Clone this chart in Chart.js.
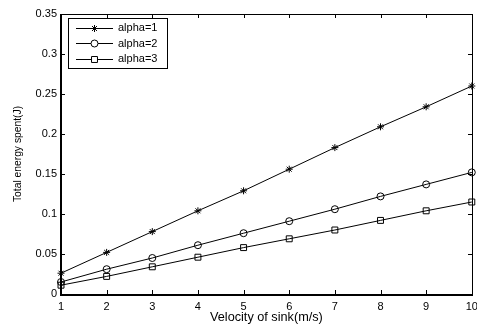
<!DOCTYPE html>
<html>
<head>
<meta charset="utf-8">
<script src="https://cdn.jsdelivr.net/npm/chart.js@4/dist/chart.umd.min.js"></script>
<style>
  html, body { margin: 0; padding: 0; background: #fff; }
  #wrap { width: 477px; height: 328px; }
</style>
</head>
<body>
<div id="wrap"><canvas id="energyChart" width="477" height="328"></canvas></div>
<script>
// velocity of sink (m/s)
const velocity = [1, 2, 3, 4, 5, 6, 7, 8, 9, 10];
// total energy spent (J) for each alpha
const alpha1 = [0.026, 0.052, 0.078, 0.104, 0.129, 0.156, 0.183, 0.209, 0.234, 0.260];
const alpha2 = [0.015, 0.031, 0.045, 0.061, 0.076, 0.091, 0.106, 0.122, 0.137, 0.152];
const alpha3 = [0.011, 0.022, 0.034, 0.046, 0.058, 0.069, 0.080, 0.092, 0.104, 0.115];
const seriesNames = ['alpha=1', 'alpha=2', 'alpha=3'];
const yTicks = [0, 0.05, 0.1, 0.15, 0.2, 0.25, 0.3, 0.35];

const FONT = '"Liberation Sans", Arial, sans-serif';

const styles = [
  { pointStyle: 'star', radius: 3.5 },
  { pointStyle: 'circle', radius: 3.5 },
  { pointStyle: 'rect', radius: 4.2 }
];

function makeSet(name, values, i) {
  return {
    label: name,
    data: values.map((v, k) => ({ x: velocity[k], y: v })),
    borderColor: '#000',
    borderWidth: 1,
    backgroundColor: 'rgba(0,0,0,0)',
    pointBorderColor: '#000',
    pointBorderWidth: 1,
    pointStyle: styles[i].pointStyle,
    pointRadius: styles[i].radius,
    tension: 0,
    clip: false
  };
}

// matlab-like box with inward ticks on all four sides
const boxPlugin = {
  id: 'box',
  afterDatasetsDraw(chart) {
    const { ctx, chartArea: a, scales } = chart;
    const len = 4;
    const L = Math.round(a.left), R = Math.round(a.right);
    const T = Math.round(a.top), B = Math.round(a.bottom);
    ctx.save();
    ctx.strokeStyle = '#000';
    ctx.lineWidth = 1;
    ctx.beginPath();
    velocity.forEach(v => {
      const px = Math.round(scales.x.getPixelForValue(v)) + 0.5;
      ctx.moveTo(px, B); ctx.lineTo(px, B - len);
      ctx.moveTo(px, T); ctx.lineTo(px, T + len);
    });
    yTicks.forEach(v => {
      const py = Math.round(scales.y.getPixelForValue(v)) + 0.5;
      ctx.moveTo(L, py); ctx.lineTo(L + len, py);
      ctx.moveTo(R, py); ctx.lineTo(R - len, py);
    });
    ctx.stroke();
    ctx.strokeRect(L + 0.5, T + 0.5, R - L, B - T);
    // bottom and left axis lines a bit heavier
    ctx.fillStyle = '#000';
    ctx.fillRect(L - 1, T, 2, B - T + 2);
    ctx.fillRect(L - 1, B, R - L + 2, 2);
    ctx.restore();
  },
  afterDraw(chart) {
    // legend box, top-left inside the axes
    const { ctx, chartArea: a } = chart;
    const bx = a.left + 7, by = a.top + 4, bw = 99, bh = 50;
    ctx.save();
    ctx.fillStyle = '#fff';
    ctx.fillRect(bx, by, bw, bh);
    ctx.strokeStyle = '#000';
    ctx.lineWidth = 1;
    ctx.strokeRect(bx + 0.5, by + 0.5, bw, bh);
    ctx.font = '11px ' + FONT;
    ctx.textBaseline = 'middle';
    chart.data.datasets.forEach((ds, i) => {
      const ry = by + 9.5 + i * 15.5;
      ctx.beginPath();
      ctx.moveTo(bx + 8, Math.round(ry) + 0.5);
      ctx.lineTo(bx + 45, Math.round(ry) + 0.5);
      ctx.stroke();
      ctx.fillStyle = '#fff';
      Chart.helpers.drawPoint(ctx, {
        pointStyle: ds.pointStyle, radius: ds.pointRadius, rotation: 0, borderWidth: 1
      }, bx + 26.5, Math.round(ry) + 0.5);
      ctx.fillStyle = '#000';
      ctx.fillText(ds.label, bx + 50, ry + 0.5);
    });
    ctx.restore();
  }
};

new Chart(document.getElementById('energyChart'), {
  type: 'line',
  data: {
    datasets: [
      makeSet(seriesNames[0], alpha1, 0),
      makeSet(seriesNames[1], alpha2, 1),
      makeSet(seriesNames[2], alpha3, 2)
    ]
  },
  options: {
    responsive: false,
    animation: false,
    layout: { padding: { top: 14, right: 5, left: 0, bottom: 0 } },
    plugins: { legend: { display: false }, tooltip: { enabled: false } },
    scales: {
      x: {
        type: 'linear',
        min: 1, max: 10,
        afterFit(s) { s.height = 34; s.paddingLeft = 0; s.paddingRight = 0; },
        afterBuildTicks(s) { s.ticks = velocity.map(v => ({ value: v })); },
        grid: { display: false, drawTicks: false },
        border: { display: false },
        ticks: { color: '#000', padding: 6, font: { family: FONT, size: 11 } },
        title: {
          display: true, text: 'Velocity of sink(m/s)', color: '#000',
          font: { family: FONT, size: 12.7 }, padding: { top: 0, bottom: 3 }
        }
      },
      y: {
        min: 0, max: 0.35,
        afterFit(s) { s.width = 61; s.paddingTop = 0; s.paddingBottom = 0; },
        afterBuildTicks(s) { s.ticks = yTicks.map(v => ({ value: v })); },
        grid: { display: false, drawTicks: false },
        border: { display: false },
        ticks: {
          color: '#000', padding: 4, font: { family: FONT, size: 11 },
          callback: v => String(+v.toFixed(2))
        },
        title: {
          display: true, text: 'Total energy spent(J)', color: '#000',
          font: { family: FONT, size: 10.3 }, padding: { top: 12, bottom: 0 }
        }
      }
    }
  },
  plugins: [boxPlugin]
});
</script>
</body>
</html>
